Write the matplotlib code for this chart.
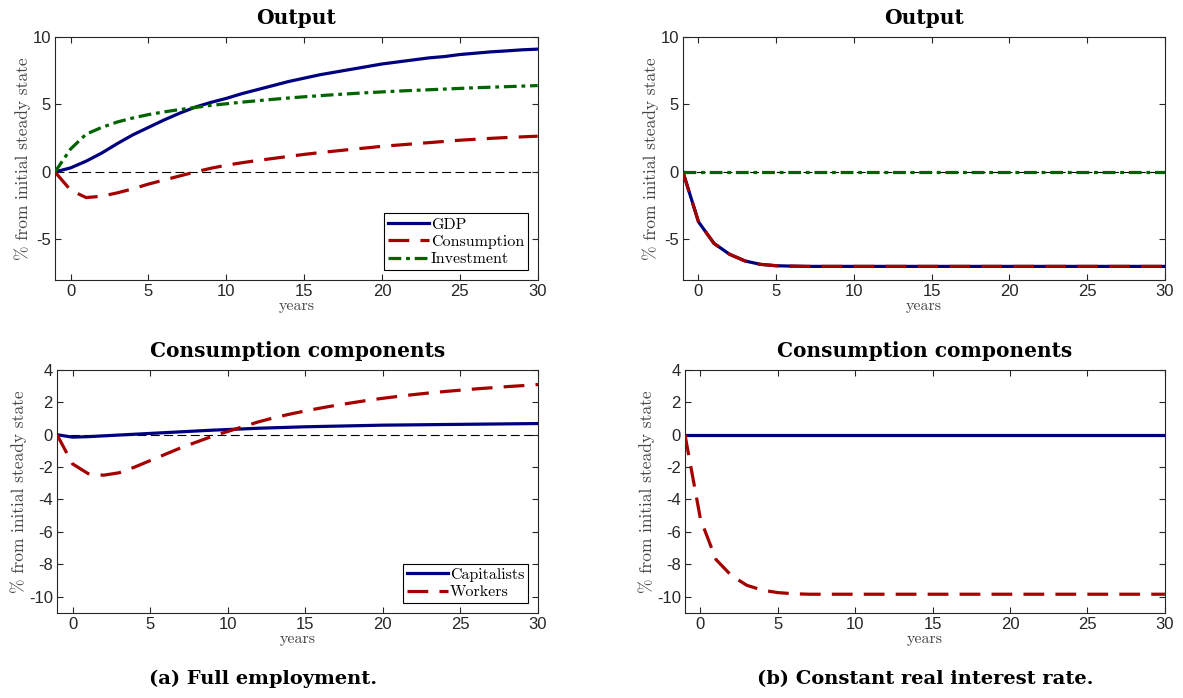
import numpy as np
import matplotlib
matplotlib.use("Agg")
import matplotlib.pyplot as plt

plt.rcParams['axes.unicode_minus'] = False

# ---- data ----
years = list(range(-1, 31))

# (a) full employment, output
gdp_a = [0, 0.3, 0.8, 1.4, 2.1, 2.75, 3.3, 3.85, 4.35, 4.8, 5.15, 5.45, 5.8, 6.1, 6.4, 6.7,
         6.95, 7.2, 7.4, 7.6, 7.8, 8.0, 8.15, 8.3, 8.45, 8.55, 8.7, 8.8, 8.9, 8.97, 9.05, 9.1]
cons_a = [0, -1.35, -1.9, -1.8, -1.55, -1.25, -0.9, -0.6, -0.3, 0.0, 0.27, 0.5, 0.68, 0.85,
          1.0, 1.15, 1.3, 1.43, 1.55, 1.67, 1.78, 1.9, 1.99, 2.08, 2.17, 2.26, 2.35, 2.42,
          2.49, 2.55, 2.6, 2.65]
inv_a = [0, 1.7, 2.8, 3.3, 3.7, 4.0, 4.25, 4.45, 4.62, 4.78, 4.93, 5.05, 5.17, 5.28, 5.38,
         5.48, 5.57, 5.65, 5.73, 5.8, 5.87, 5.93, 5.99, 6.04, 6.09, 6.14, 6.19, 6.24, 6.28,
         6.32, 6.36, 6.4]

# (a) consumption components
capit_a = [0, -0.15, -0.12, -0.07, -0.02, 0.03, 0.08, 0.13, 0.18, 0.23, 0.28, 0.32, 0.36,
           0.4, 0.43, 0.46, 0.49, 0.51, 0.53, 0.55, 0.57, 0.59, 0.6, 0.61, 0.62, 0.63, 0.64,
           0.65, 0.66, 0.67, 0.68, 0.69]
work_a = [0, -1.8, -2.4, -2.5, -2.35, -2.0, -1.6, -1.2, -0.8, -0.45, -0.1, 0.2, 0.5, 0.8,
          1.05, 1.27, 1.47, 1.65, 1.82, 1.97, 2.12, 2.25, 2.37, 2.48, 2.58, 2.67, 2.75, 2.83,
          2.9, 2.97, 3.03, 3.1]

# (b) constant real interest rate, output
gdp_b = [0, -3.7, -5.3, -6.1, -6.6, -6.85, -6.95, -6.98] + [-7.0] * 24
cons_b = gdp_b
inv_b = [0.0] * 32

# (b) consumption components
capit_b = [0.0] * 32
work_b = [0, -5.2, -7.7, -8.7, -9.3, -9.6, -9.75, -9.82] + [-9.85] * 24

blue = '#00007F'
red = '#A50000'
green = '#006400'
tick_font = 'Liberation Sans'
title_font = 'DejaVu Serif'

fig = plt.figure(figsize=(11.83, 6.98), dpi=100)

def style_axes(ax, ylim, yticks, title):
    ax.set_xlim(-1, 30)
    ax.set_ylim(*ylim)
    ax.set_xticks([0, 5, 10, 15, 20, 25, 30])
    ax.set_yticks(yticks)
    ax.axhline(0, color='k', lw=0.8, ls=(0, (8, 4)), zorder=1)
    ax.tick_params(direction='in', top=True, right=True, length=4,
                   width=0.8, colors='#262626', labelsize=12, pad=3)
    for lab in ax.get_xticklabels() + ax.get_yticklabels():
        lab.set_fontfamily(tick_font)
    for sp in ax.spines.values():
        sp.set_color('#262626')
        sp.set_linewidth(0.8)
    ax.set_title(title, fontfamily=title_font, fontweight='bold', fontsize=14.5, pad=9)
    ax.set_xlabel('years', fontfamily='cmr10', fontsize=11.5, color='#444444', labelpad=0)
    ax.set_ylabel('% from initial steady state', fontfamily='cmr10', fontsize=12.5,
                  color='#444444', labelpad=1)

lw = 2.3
cons_dash = (0, (6.5, 3.5))
inv_dash = (0, (4, 1.5, 1.2, 1.5))
leg_kw = dict(loc='lower right', prop={'family': 'cmr10', 'size': 11.5},
              fancybox=False, edgecolor='k', framealpha=1, borderpad=0.25,
              labelspacing=0.2, handlelength=2.6, handletextpad=0.1,
              borderaxespad=0.6)

# top-left
ax1 = fig.add_axes([0.0465, 0.599, 0.408, 0.348])
style_axes(ax1, (-8, 10), [-5, 0, 5, 10], 'Output')
ax1.plot(years, gdp_a, color=blue, lw=lw, label='GDP', zorder=3)
ax1.plot(years, cons_a, color=red, lw=lw, ls=cons_dash, label='Consumption', zorder=3)
ax1.plot(years, inv_a, color=green, lw=lw, ls=inv_dash, label='Investment', zorder=3)
leg = ax1.legend(**leg_kw)
leg.get_frame().set_linewidth(0.8)

# top-right
ax2 = fig.add_axes([0.5773, 0.599, 0.4074, 0.348])
style_axes(ax2, (-8, 10), [-5, 0, 5, 10], 'Output')
ax2.plot(years, gdp_b, color=blue, lw=lw, zorder=3)
ax2.plot(years, cons_b, color=red, lw=lw, ls=cons_dash, zorder=3)
ax2.plot(years, inv_b, color=green, lw=lw, ls=inv_dash, zorder=3)

# bottom-left
ax3 = fig.add_axes([0.0482, 0.122, 0.4066, 0.348])
style_axes(ax3, (-11, 4), [-10, -8, -6, -4, -2, 0, 2, 4], 'Consumption components')
ax3.plot(years, capit_a, color=blue, lw=lw, label='Capitalists', zorder=3)
ax3.plot(years, work_a, color=red, lw=lw, ls=cons_dash, label='Workers', zorder=3)
leg = ax3.legend(**leg_kw)
leg.get_frame().set_linewidth(0.8)

# bottom-right
ax4 = fig.add_axes([0.579, 0.122, 0.4057, 0.348])
style_axes(ax4, (-11, 4), [-10, -8, -6, -4, -2, 0, 2, 4], 'Consumption components')
ax4.plot(years, capit_b, color=blue, lw=lw, zorder=3)
ax4.plot(years, work_b, color=red, lw=lw, ls=cons_dash, zorder=3)

fig.text(0.222, 0.02, '(a) Full employment.', fontfamily=title_font, fontweight='bold',
         fontsize=14, ha='center')
fig.text(0.782, 0.02, '(b) Constant real interest rate.', fontfamily=title_font,
         fontweight='bold', fontsize=14, ha='center')

fig.savefig('out.png', dpi=100)
